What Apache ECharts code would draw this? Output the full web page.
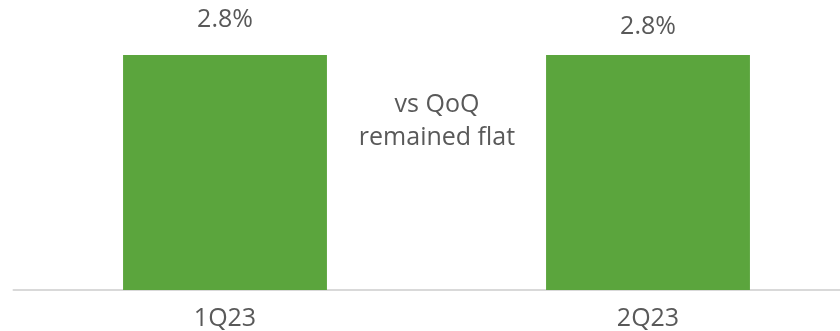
<!DOCTYPE html>
<html>
<head>
<meta charset="utf-8">
<script src="https://cdn.jsdelivr.net/npm/echarts@6/dist/echarts.min.js"></script>
<style>
  html, body { margin: 0; padding: 0; background: #fff; }
  #chart { width: 840px; height: 331px; }
</style>
</head>
<body>
<div id="chart"></div>
<script>
// Quarterly rate, shown as a percentage
const quarters = ['1Q23', '2Q23'];
const rates = [2.8, 2.8];
const noteLines = ['vs QoQ', 'remained flat'];

const FONT = '"Open Sans", sans-serif';
const TEXT = '#595959';

const chart = echarts.init(document.getElementById('chart'), null, { renderer: 'canvas' });

chart.setOption({
  animation: false,
  backgroundColor: '#ffffff',
  grid: {
    left: 13.5, top: 38.2, right: -19.5, bottom: 41,
    containLabel: false,
    outerBoundsMode: 'none'
  },
  xAxis: {
    type: 'category',
    data: quarters,
    axisLine: { show: true, lineStyle: { color: '#D9D9D9', width: 2 } },
    axisTick: { show: false },
    axisLabel: { color: TEXT, fontFamily: FONT, fontSize: 25, margin: 16 }
  },
  yAxis: {
    type: 'value',
    min: 0,
    max: 3,
    show: false,
    splitLine: { show: false }
  },
  series: [{
    type: 'bar',
    barWidth: '48.2%',
    itemStyle: { color: '#5BA53D' },
    data: rates.map((v, i) => ({
      value: v,
      label: { offset: [0, i === 0 ? -7 : 0] }
    })),
    label: {
      show: true,
      position: 'top',
      distance: 16,
      color: TEXT,
      fontFamily: FONT,
      fontSize: 25,
      formatter: p => p.value.toFixed(1) + '%'
    }
  }],
  graphic: [{
    type: 'text',
    x: 437,
    y: 88,
    z: 100,
    style: {
      text: noteLines.join('\n'),
      fill: TEXT,
      font: '25px ' + FONT,
      align: 'center',
      verticalAlign: 'top',
      lineHeight: 33
    }
  }]
});
</script>
</body>
</html>
